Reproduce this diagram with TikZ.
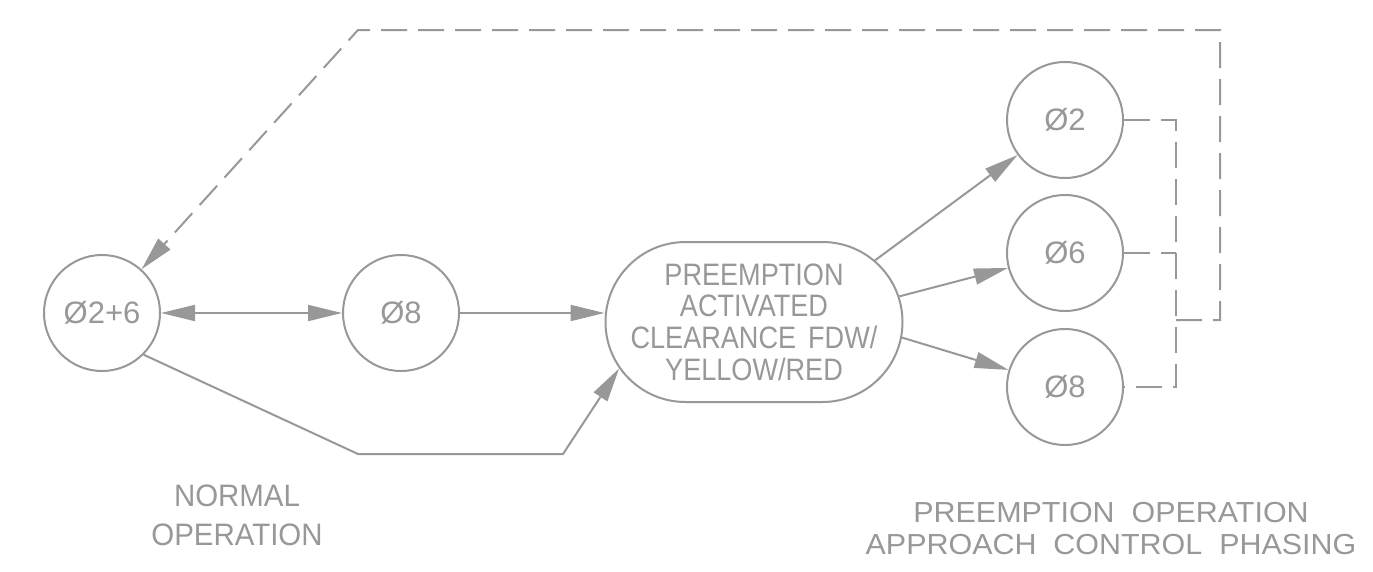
\documentclass[tikz,border=0pt]{standalone}
\usepackage{fontspec}
\setmainfont{Liberation Sans}[FakeStretch=0.874,WordSpace=1.6]
\newfontfamily\phasefont{Liberation Sans}[FakeStretch=1.0]
\newfontfamily\normfont{Liberation Sans}[FakeStretch=0.95]
\newfontfamily\preopfont{Liberation Sans}[FakeStretch=1.05,WordSpace=2.0]
\usetikzlibrary{arrows.meta,positioning,shapes.misc}
\definecolor{cadgray}{RGB}{152,152,152}
\tikzstyle{phase}=[circle,draw=cadgray,line width=2pt,text=cadgray,minimum size=116pt,inner sep=0pt,
font=\phasefont\fontsize{31}{31}\selectfont]
\tikzstyle{stadium}=[rounded rectangle,draw=cadgray,line width=2pt,minimum width=297pt,
minimum height=160pt,inner sep=0pt]
\tikzstyle{note}=[text=cadgray,inner sep=0pt]
\tikzstyle{flow}=[draw=cadgray,line width=2pt,-{Triangle[length=34pt,width=16pt]}]
\tikzstyle{link}=[draw=cadgray,line width=2pt,dash pattern=on 26pt off 11pt]

\begin{document}
\begin{tikzpicture}[x=1pt,y=-1pt,node distance=299pt]
            \useasboundingbox (0,0) rectangle (1373,571);

            % NORMAL OPERATION PART

            \node[phase] (n26) at (102,313) {Ø2+6};
            \node[phase, right of=n26] (n8) {Ø8};

            \draw[flow,{Triangle[length=34pt,width=16pt]}-{Triangle[length=34pt,width=16pt]}] (n26) -- (n8);

            % PREEMPTION PART

            \node[stadium] (pre) at (754,322) {};
            \node[note, align=center, font=\fontsize{31}{31.7}\selectfont] (pretxt) at (pre)
                {PREEMPTION\\ACTIVATED\\CLEARANCE FDW/\\YELLOW/RED};

            \draw[flow] (n8) -- (n8 -| pre.west);

            \coordinate (lowL) at (358,454);
            \coordinate (lowR) at (563,454);
            \draw[flow] (n26.-45) -- (lowL) -- (lowR) -- (pre.199);

            % APPROACH CONTROL PHASING

            \node[phase] (c2) at (1065,120) {Ø2};
            \node[phase, below of=c2, node distance=133pt] (c6) {Ø6};
            \node[phase, below of=c6, node distance=134pt] (c8) {Ø8};

            \draw[flow] (pre.27) -- (c2);
            \draw[flow] (pre.10) -- (c6);
            \draw[flow] (pre.-6) -- (c8);

            % Return to normal operation

            \coordinate (busT) at (1176,120);
            \coordinate (busB) at (1176,387);
            \coordinate (busM) at (1176,320);
            \coordinate (retB) at (1220,320);
            \coordinate (retT) at (1220,30);
            \coordinate (retL) at (358,30);

            \draw[link] (c2) -- (busT) -- (busB) -- (c8);
            \draw[link] (c6) -- (c6 -| busT);
            \draw[link,-{Triangle[length=34pt,width=16pt]}] (busM) -- (retB) -- (retT) -- (retL) -- (n26);

            % Captions

            \node[note, align=center, anchor=north, font=\normfont\fontsize{31}{39}\selectfont] (normal) at (237,485)
                {NORMAL\\OPERATION};
            \node[note, align=center, anchor=north, font=\preopfont\fontsize{29}{32}\selectfont] (preop) at (1111,502)
                {PREEMPTION OPERATION\\APPROACH CONTROL PHASING};

        \end{tikzpicture}
\end{document}
